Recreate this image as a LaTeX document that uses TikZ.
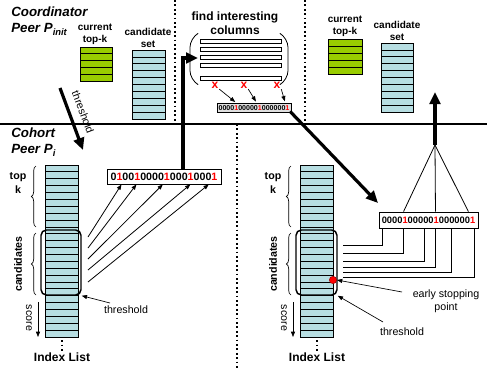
\documentclass[tikz,border=0pt]{standalone}
\usepackage{fontspec}
\setmainfont{Liberation Sans}
\usepackage{tikz}
\usepackage{color}
\usetikzlibrary{arrows.meta}
\usetikzlibrary{calc}
\usetikzlibrary{decorations.pathreplacing}

\definecolor{topkgreen}{RGB}{153,204,0}
\definecolor{candblue}{RGB}{183,222,226}
\newcommand{\redone}{\textcolor{red}{1}}

\begin{document}
\begin{tikzpicture}[x=0.75pt,y=0.75pt,yscale=-1,xscale=1,
  cell/.style={draw=black,line width=0.6pt},
  heavy/.style={line width=2.4pt,-{Triangle[length=9pt,width=8pt]}},
  thinarr/.style={line width=0.5pt,-{Triangle[length=4pt,width=3pt]}},
  head/.style={font=\bfseries\itshape\fontsize{10}{12}\selectfont,align=left,inner sep=0.75pt},
  tag/.style={font=\bfseries\fontsize{7.5}{9}\selectfont,align=center,inner sep=0.75pt},
  note/.style={font=\fontsize{8}{9.5}\selectfont,align=center,inner sep=0.75pt},
  bits/.style={draw,fill=white,line width=0.6pt,inner sep=0pt},
  divider/.style={dotted,line width=1.3pt},
  bracelbl/.style={decorate,decoration={brace,amplitude=3.5pt},line width=0.5pt}]
\useasboundingbox (0,0) rectangle (487,368);

%Straight Lines: separator and dividers
\draw [line width=1.3pt] (0,124) -- (487,124) ;
\draw [divider] (175,0) -- (175,124) ;
\draw [divider] (305,0) -- (305,124) ;
\draw [divider] (237,124) -- (237,368) ;

% Text Node
\node (coord) [head,anchor=north west] at (10,6) {Coordinator\\Peer P\textsubscript{init}};
% Text Node
\node (cohort) [head,anchor=north west] at (10,127) {Cohort\\Peer P\textsubscript{i}};

%Shape: current top-k and candidate set (coordinator, left)
\foreach \i in {0,...,4}
  \draw [cell,fill=topkgreen] (80,47+6.8*\i) rectangle ++(32,6.8) ;
\foreach \i in {0,...,9}
  \draw [cell,fill=candblue] (132,50+6.9*\i) rectangle ++(33,6.9) ;
\node (topkA) [tag] at (95,34) {current\\top-k};
\node (candA) [tag] at (148,38) {candidate\\set};

%Shape: current top-k and candidate set (coordinator, right)
\foreach \i in {0,...,4}
  \draw [cell,fill=topkgreen] (328,39+7*\i) rectangle ++(34,7) ;
\foreach \i in {0,...,9}
  \draw [cell,fill=candblue] (381,43+6.9*\i) rectangle ++(32,6.9) ;
\node (topkB) [tag] at (345,26) {current\\top-k};
\node (candB) [tag] at (397,31) {candidate\\set};

%Shape: find interesting columns
\node (findcols) [tag,font=\bfseries\fontsize{9}{10.5}\selectfont] at (235,23) {find interesting\\columns};
\draw [line width=0.6pt,rounded corners=7] (197,34) -- (190,38) -- (190,80) -- (197,84) ;
\draw [line width=0.6pt,rounded corners=7] (281,34) -- (288,38) -- (288,80) -- (281,84) ;
\foreach \yy in {39,47,55,63,76}
  \draw [cell,fill=white] (200,\yy) rectangle (281,\yy+4) ;
\node (xa) [font=\bfseries\fontsize{9}{9}\selectfont,text=red,inner sep=0.5pt] at (215,85) {x};
\node (xb) [font=\bfseries\fontsize{9}{9}\selectfont,text=red,inner sep=0.5pt] at (244,85) {x};
\node (xc) [font=\bfseries\fontsize{9}{9}\selectfont,text=red,inner sep=0.5pt] at (277,85) {x};
\node (bitsT) [bits,fill=gray!25,minimum width=55.5pt,minimum height=6.5pt,font=\bfseries\fontsize{5.3}{5.3}\selectfont] at (254,108) {0000\redone00000\redone000000\redone};
\draw [thinarr,shorten >=1.5pt] (xa.south east) -- ($(bitsT.north west)!0.27!(bitsT.north east)$) ;
\draw [thinarr,shorten >=1.5pt] (xb.south east) -- ($(bitsT.north west)!0.54!(bitsT.north east)$) ;
\draw [thinarr,shorten >=1.5pt] (xc.south east) -- ($(bitsT.north west)!0.92!(bitsT.north east)$) ;

%Shape: index list (left)
\foreach \i in {0,...,24}
  \draw [cell,fill=candblue] (45,165+6.88*\i) rectangle ++(33,6.88) ;
\node (candL) [draw,line width=1.1pt,rounded corners=4pt,minimum width=30pt,minimum height=48.75pt] at (61,262.5) {};
\draw [bracelbl] (36,227) -- (36,166) ;
\draw [bracelbl] (36,295) -- (36,233) ;
\node (topL) [tag,font=\bfseries\fontsize{8}{11}\selectfont] at (18,183) {top\\k};
\node (cndL) [tag,font=\bfseries\fontsize{8}{9}\selectfont,rotate=90] at (18,264) {candidates};
\node (scoreL) [note,rotate=-90] at (29,318) {score};
\draw [thinarr] (38,302) -- (38,337) ;
\draw [dotted,line width=1.4pt] (62,340) -- (62,351) ;
\node (idxL) [tag,font=\bfseries\fontsize{9}{10}\selectfont] at (62,357) {Index List};
\node (thrL) [note] at (126,310) {threshold};
\coordinate (thrLfrom) at (110,303) ;
\draw [thinarr] (thrLfrom) -- (candL.south east) ;

%Shape: bit vector (left) and its arrows
\node (bitsL) [bits,minimum width=85.5pt,minimum height=11.25pt,font=\bfseries\fontsize{8}{8}\selectfont] at (164,176.5) {0\redone00\redone0000\redone000\redone000\redone};
\foreach \p/\yy in {0.13/237,0.26/248,0.49/259,0.73/270,0.89/282}
  \draw [thinarr,line width=0.6pt] (88,\yy) -- ($(bitsL.south west)!\p!(bitsL.south east)$) ;

%Thick arrows
\coordinate (thrtop) at (60,88) ;
\coordinate (thrbot) at (83,150) ;
\draw [heavy] (thrtop) -- (thrbot) ;
\node (thrlbl) [note,rotate=-69] at (83,112) {threshold};
\coordinate (turnL) at (183,58) ;
\coordinate (colsin) at (198,58) ;
\draw [heavy] (bitsL.north -| turnL) -- (turnL) -- (colsin) ;
\coordinate (rin) at (378,203) ;
\draw [heavy] ([xshift=-1pt,yshift=-1pt]bitsT.south east) -- (rin) ;

%Shape: index list (right)
\foreach \i in {0,...,24}
  \draw [cell,fill=candblue] (300,165+6.88*\i) rectangle ++(33,6.88) ;
\node (candR) [draw,line width=1.1pt,rounded corners=4pt,minimum width=30.75pt,minimum height=48.75pt] at (316.5,262.5) {};
\draw [bracelbl] (291,227) -- (291,166) ;
\draw [bracelbl] (291,295) -- (291,233) ;
\node (topR) [tag,font=\bfseries\fontsize{8}{11}\selectfont] at (273,183) {top\\k};
\node (cndR) [tag,font=\bfseries\fontsize{8}{9}\selectfont,rotate=90] at (273,264) {candidates};
\node (scoreR) [note,rotate=-90] at (284,318) {score};
\draw [thinarr] (293,302) -- (293,337) ;
\draw [dotted,line width=1.4pt] (317,340) -- (317,351) ;
\node (idxR) [tag,font=\bfseries\fontsize{9}{10}\selectfont] at (317,357) {Index List};
\node (stop) [circle,fill=red,draw=red!60!black,line width=0.4pt,inner sep=0pt,minimum size=5.5pt] at (333,280) {};
\node (esp) [note] at (446,301) {early stopping\\point};
\coordinate (espfrom) at (402,292) ;
\draw [thinarr] (espfrom) -- (stop.east) ;
\node (thrR) [note] at (402,332) {threshold};
\coordinate (thrRfrom) at (383,322) ;
\draw [thinarr] (thrRfrom) -- (candR.south east) ;

%Shape: bit vector (right), fan and elbows
\node (bitsR) [bits,minimum width=74.25pt,minimum height=12pt,font=\bfseries\fontsize{7}{7}\selectfont] at (428.5,220) {0000\redone00000\redone000000\redone};
\coordinate (fan) at (435,145) ;
\coordinate (up) at (435,92) ;
\draw [heavy] (fan) -- (up) ;
\foreach \p in {0.25,0.57,0.9}
  \draw [line width=0.6pt] (fan) -- ($(bitsR.north west)!\p!(bitsR.north east)$) ;
\foreach \p/\yy in {0.04/245,0.25/253,0.46/261,0.57/267,0.73/272,0.96/277}
  \draw [line width=0.6pt] ($(bitsR.south west)!\p!(bitsR.south east)$) |- (343,\yy) ;

\end{tikzpicture}
\end{document}
